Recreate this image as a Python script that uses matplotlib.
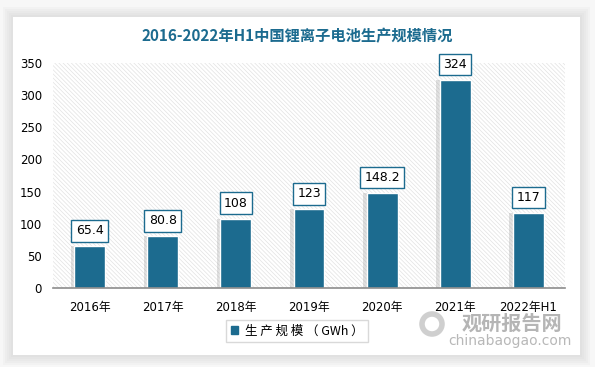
import matplotlib.pyplot as plt
import matplotlib.patches as mpatches
import numpy as np

plt.rcParams['font.family'] = ['DejaVu Sans', 'Noto Sans CJK SC']
plt.rcParams['hatch.linewidth'] = 0.5

categories = ['2016年', '2017年', '2018年', '2019年', '2020年', '2021年', '2022年H1']
values = [65.4, 80.8, 108, 123, 148.2, 324, 117]
value_labels = ['65.4', '80.8', '108', '123', '148.2', '324', '117']
yticks = [0, 50, 100, 150, 200, 250, 300, 350]

blue = '#1c6b8f'
W, H = 595, 367

fig = plt.figure(figsize=(W / 100, H / 100), dpi=100)
fig.patch.set_facecolor('#f7f7f7')

# white card with soft shadow
bg = fig.add_axes([0, 0, 1, 1], zorder=-10)
bg.set_xlim(0, W)
bg.set_ylim(H, 0)
bg.axis('off')
for i in range(6):
    d = 10 - 2 * i
    bg.add_patch(mpatches.Rectangle((13 - d, 17 - d), 567 + 2 * d, 338 + 2 * d,
                                    facecolor='#a0a0a0', alpha=0.05, edgecolor='none'))
bg.add_patch(mpatches.Rectangle((13, 17), 567, 338, facecolor='white', edgecolor='none'))

# watermark
bg.text(512, 323, '观研报告网', fontsize=14.5, fontweight='bold', color='#9c9c9c',
        family=['Noto Sans CJK SC'], ha='center', va='center', alpha=0.75)
bg.text(510, 341, 'chinabaogao.com', fontsize=10, color='#a0a0a0',
        ha='center', va='center', alpha=0.75)
bg.add_patch(mpatches.Circle((432, 324), 10, facecolor='none', edgecolor='#b0b0b0',
                             linewidth=4, alpha=0.6))

fig.text(297 / W, 1 - 36 / H, '2016-2022年H1中国锂离子电池生产规模情况', fontsize=11,
         fontweight='bold', color=blue, ha='center', va='center',
         family=['Noto Sans CJK SC'])

ax = fig.add_axes([53 / W, 1 - 288 / H, 512 / W, 225 / H])
ax.set_xlim(-0.5, len(categories) - 0.5)
ax.set_ylim(0, 350)
ax.set_facecolor('white')
ax.add_patch(mpatches.Rectangle((0, 0), 1, 1, transform=ax.transAxes, facecolor='white',
                                edgecolor='#e2e2e2', hatch='\\\\\\\\\\\\\\\\', linewidth=0,
                                zorder=0))

x = np.arange(len(categories))
# shadow
ax.bar(x - 0.05, values, width=0.42, color='#9a9a9a', alpha=0.3, zorder=1)
ax.bar(x, values, width=0.42, color=blue, edgecolor='white', linewidth=1, zorder=2)

for xi, v, lab in zip(x, values, value_labels):
    ax.annotate(lab, (xi, v), xytext=(0, 11), textcoords='offset points', ha='center',
                va='center', fontsize=9, color='black', zorder=5,
                bbox=dict(boxstyle='square,pad=0.35', facecolor='white', edgecolor=blue,
                          linewidth=1))

ax.set_yticks(yticks)
ax.set_xticks(x)
ax.set_xticklabels(categories, fontsize=8.5)
ax.tick_params(axis='y', length=0, labelsize=8.5, pad=8)
ax.tick_params(axis='x', length=0, pad=9)
for s in ['top', 'right', 'left']:
    ax.spines[s].set_visible(False)
ax.spines['bottom'].set_color('#8c8c8c')
ax.spines['bottom'].set_linewidth(1.2)

handle = mpatches.Patch(color=blue, label='生 产 规 模 （ GWh ）')
leg = fig.legend(handles=[handle], loc='center', bbox_to_anchor=(297 / W, 1 - 331 / H),
                 frameon=True, fancybox=False, edgecolor='#d0d0d0',
                 handlelength=0.6, handleheight=0.6, handletextpad=0.5, borderpad=0.35,
                 borderaxespad=0, prop={'family': ['Noto Sans CJK SC'], 'size': 9})
leg.get_frame().set_linewidth(1)

fig.savefig('out.png', dpi=100, facecolor=fig.get_facecolor())
